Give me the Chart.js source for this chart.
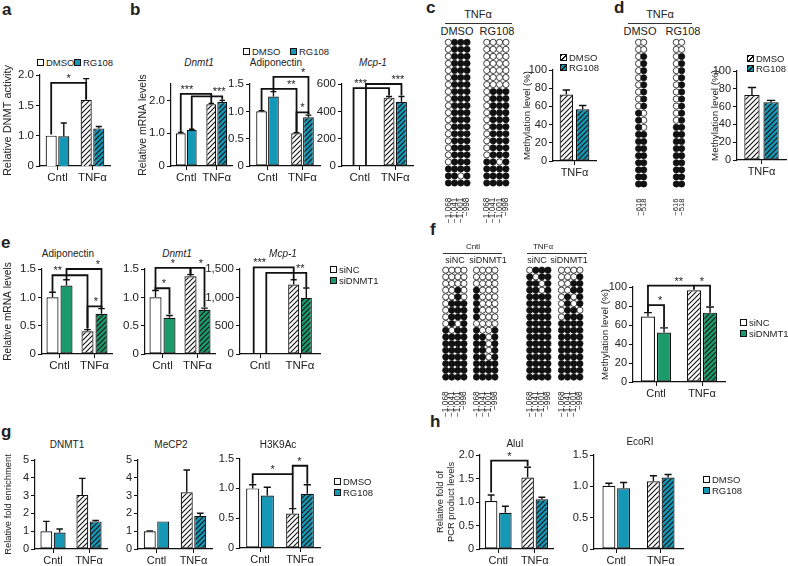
<!DOCTYPE html>
<html><head><meta charset="utf-8">
<script src="https://cdn.jsdelivr.net/npm/chart.js@4.4.1/dist/chart.umd.min.js"></script>
<style>
html,body{margin:0;padding:0;background:#fff;}
#root{position:relative;width:788px;height:566px;overflow:hidden;background:#fff;font-family:"Liberation Sans",Arial,Helvetica,sans-serif;color:#222;}
#root canvas{position:absolute;}
.t{position:absolute;line-height:1;white-space:nowrap;}
.box{position:absolute;width:5px;height:5px;border:1px solid #111;}
.hl{position:absolute;height:0;border-top:1px solid #333;}
</style></head><body><div id="root"></div>
<script>
// ---------------- data ----------------
const cats = ['Cntl', 'TNFα'];
const catTNF = ['TNFα'];
// a
const aDMSO = [1.00, 1.59], aDMSOErr = [0, 0.35];
const aRG108 = [0.99, 1.12], aRG108Err = [0.22, 0.03];
// b
const bDnmt1DMSO = [1.00, 1.88], bDnmt1DMSOErr = [0.02, 0.03];
const bDnmt1RG108 = [1.10, 1.95], bDnmt1RG108Err = [0.02, 0.05];
const bAdipoDMSO = [1.00, 0.60], bAdipoDMSOErr = [0.01, 0.01];
const bAdipoRG108 = [1.27, 0.89], bAdipoRG108Err = [0.09, 0.04];
const bMcp1DMSO = [0, 500], bMcp1DMSOErr = [0, 8];
const bMcp1RG108 = [0, 470], bMcp1RG108Err = [0, 38];
// c, d
const cDMSO = [73], cDMSOErr = [5];
const cRG108 = [57], cRG108Err = [4];
const dDMSO = [73], dDMSOErr = [8.5];
const dRG108 = [65], dRG108Err = [2];
// e
const eAdipoSiNC = [1.00, 0.40], eAdipoSiNCErr = [0.09, 0.03];
const eAdipoSiD = [1.21, 0.71], eAdipoSiDErr = [0.10, 0.09];
const eDnmt1SiNC = [1.00, 1.37], eDnmt1SiNCErr = [0.12, 0.03];
const eDnmt1SiD = [0.64, 0.78], eDnmt1SiDErr = [0.04, 0.03];
const eMcp1SiNC = [0, 1225], eMcp1SiNCErr = [0, 85];
const eMcp1SiD = [0, 990], eMcp1SiDErr = [0, 175];
// f
const fSiNC = [69, 96.5], fSiNCErr = [4, 0];
const fSiD = [52, 73], fSiDErr = [5, 6];
// g
const gDnmt1DMSO = [1.00, 3.04], gDnmt1DMSOErr = [0.55, 0.93];
const gDnmt1RG108 = [0.93, 1.55], gDnmt1RG108Err = [0.19, 0.05];
const gMeCP2DMSO = [1.00, 3.19], gMeCP2DMSOErr = [0.02, 1.25];
const gMeCP2RG108 = [1.55, 1.86], gMeCP2RG108Err = [0, 0.15];
const gH3DMSO = [1.00, 0.58], gH3DMSOErr = [0.06, 0.08];
const gH3RG108 = [0.88, 0.91], gH3RG108Err = [0.14, 0.15];
// h
const hAluDMSO = [1.02, 1.52], hAluDMSOErr = [0.13, 0.22];
const hAluRG108 = [0.77, 1.06], hAluRG108Err = [0.14, 0.04];
const hEcoDMSO = [1.01, 1.08], hEcoDMSOErr = [0.04, 0.09];
const hEcoRG108 = [0.97, 1.14], hEcoRG108Err = [0.09, 0.05];
// methylation maps (o = unmethylated, x = methylated)
const cPosLabels = ['−1,068', '−1,041', '−1,001', '−998'];
const dPosLabels = ['−616', '−518'];
const cMapDMSO = ['oxxx','oxxx','oxxx','oxxx','oxxx','oxxx','oxxx','oxxx','oxxx','oxxx','oxxx','oxxx','oxxx','oxxx','oxxx','oxxx','oxxx','oxxx','xxxx','xxox','xxxx'];
const cMapRG108 = ['oooo','oooo','oooo','oooo','oooo','oooo','oooo','oxxx','oxxx','oxxx','oxxx','oxxx','oxxx','oxxx','oxxx','oxxx','oxxx','xxox','xxxx','xxxx','xxxx'];
const dMapDMSO = ['oo','oo','ox','ox','ox','ox','ox','ox','ox','ox','xo','xo','xo','xx','xx','xx','xx','xx','xx','xx','xx'];
const dMapRG108 = ['oo','oo','ox','ox','ox','ox','ox','ox','ox','ox','ox','ox','xx','xx','xx','xx','xx','xx','xx','xx','xx'];
const fMapCntlSiNC = ['oooo','oooo','oooo','ooxo','ooxo','oxxx','oxxx','oxxx','oxox','xoxx','xxxx','xxxx','xxxx','xxxx','xxxx','xxxx','xxxx'];
const fMapCntlSiD = ['oooo','oooo','oooo','xooo','xooo','xooo','xooo','xooo','oooo','xoox','xxox','xxox','xxox','xxox','xxxx','xxxx','xxxx'];
const fMapTnfSiNC = ['oxxx','xoxx','xxox','xxox','xxxx','xxxx','xxxx','xxxx','xxxx','xxxx','xxxx','xxxx','xxxx','xxxx','xxxx','xxxx','xxxx'];
const fMapTnfSiD = ['oooo','ooox','ooxx','ooxx','oxox','oxox','oxxo','oxxx','xxxx','xxxx','xxxx','xxxx','xxxx','xxxx','xxxx','xxxx','xxxx'];

// ---------------- helpers ----------------
const FONT = '"Liberation Sans", Arial, Helvetica, sans-serif';
Chart.defaults.font.family = FONT;
Chart.defaults.color = '#222';
const root = document.getElementById('root');
const TEAL = '#1597b6', GREEN = '#1b9b6b', WHITE = '#ffffff';

function hatch(bg) {
  const s = 5, c = document.createElement('canvas');
  c.width = s; c.height = s;
  const x = c.getContext('2d');
  x.fillStyle = bg; x.fillRect(0, 0, s, s);
  x.strokeStyle = '#111'; x.lineWidth = 1.1;
  x.beginPath();
  x.moveTo(0, s); x.lineTo(s, 0);
  x.moveTo(-1, 1); x.lineTo(1, -1);
  x.moveTo(s - 1, s + 1); x.lineTo(s + 1, s - 1);
  x.stroke();
  return x.createPattern(c, 'repeat');
}
const hW = hatch(WHITE), hT = hatch(TEAL), hG = hatch(GREEN);
const cssHatch = bg => `repeating-linear-gradient(135deg,#111 0 1px,${bg} 1px 3.4px)`;

function txt(x, base, s, size, o = {}) {
  const d = document.createElement('div');
  d.className = 't'; d.textContent = s;
  d.style.fontSize = size + 'px';
  d.style.top = (base - 0.8465 * size) + 'px';
  d.style.left = x + 'px';
  if (o.bold) d.style.fontWeight = 'bold';
  if (o.it) d.style.fontStyle = 'italic';
  if (o.mid) d.style.transform = 'translateX(-50%)';
  root.appendChild(d);
}
function hline(x1, x2, y) {
  const d = document.createElement('div'); d.className = 'hl';
  d.style.left = x1 + 'px'; d.style.width = (x2 - x1) + 'px'; d.style.top = y + 'px';
  root.appendChild(d);
}
function leg(x, y, bg, label, size) {
  const b = document.createElement('div'); b.className = 'box';
  b.style.left = x + 'px'; b.style.top = y + 'px'; b.style.background = bg;
  root.appendChild(b);
  txt(x + 9, y + 7, label, size || 9.5);
}
function mkCanvas(box) {
  const cv = document.createElement('canvas');
  const W = box[2] - box[0], H = box[3] - box[1];
  cv.width = W; cv.height = H;
  cv.style.left = box[0] + 'px'; cv.style.top = box[1] + 'px';
  cv.style.width = W + 'px'; cv.style.height = H + 'px';
  root.appendChild(cv);
  return cv;
}
const errPlugin = {
  id: 'errbars',
  afterDatasetsDraw(chart) {
    const ctx = chart.ctx, ys = chart.scales.y;
    ctx.save(); ctx.strokeStyle = '#111'; ctx.lineWidth = 1.4;
    chart.data.datasets.forEach((ds, i) => {
      const meta = chart.getDatasetMeta(i);
      meta.data.forEach((bar, j) => {
        const e = ds.err ? ds.err[j] : 0;
        if (!e) return;
        const v = ds.data[j];
        const y0 = ys.getPixelForValue(v), y1 = ys.getPixelForValue(v + e);
        const cw = Math.max(5, bar.width * 0.55);
        ctx.beginPath();
        ctx.moveTo(bar.x, y0); ctx.lineTo(bar.x, y1);
        ctx.moveTo(bar.x - cw / 2, y1); ctx.lineTo(bar.x + cw / 2, y1);
        ctx.stroke();
      });
    });
    ctx.restore();
  }
};
function bracketPlugin(list) {
  return {
    id: 'brackets',
    afterDatasetsDraw(chart) {
      if (!list) return;
      const ctx = chart.ctx, ys = chart.scales.y;
      const n = chart.data.datasets.length;
      const bx = i => chart.getDatasetMeta(i % n).data[Math.floor(i / n)].x;
      ctx.save();
      ctx.strokeStyle = '#111'; ctx.lineWidth = 1.8; ctx.fillStyle = '#222';
      ctx.font = '11px ' + FONT; ctx.textAlign = 'center'; ctx.textBaseline = 'alphabetic';
      for (const b of list) {
        const xa = bx(b.a), xb = bx(b.b), y = ys.getPixelForValue(b.y);
        ctx.beginPath();
        ctx.moveTo(xa, ys.getPixelForValue(b.ya));
        ctx.lineTo(xa, y); ctx.lineTo(xb, y);
        ctx.lineTo(xb, ys.getPixelForValue(b.yb));
        ctx.stroke();
        ctx.fillText(b.t, xa + (xb - xa) * (b.tx === undefined ? 0.5 : b.tx), y - 1);
      }
      ctx.restore();
    }
  };
}
function barChart(o) {
  const cv = mkCanvas(o.box);
  const ts = o.tickSize || 11;
  const yTitle = o.title ? {
    display: true, text: o.title, color: '#222',
    font: { size: o.titleSize || 10, family: FONT },
    padding: { top: o.titleX - o.box[0] - 0.6 * (o.titleSize || 10), bottom: 0 }
  } : { display: false };
  return new Chart(cv, {
    type: 'bar',
    data: {
      labels: o.labels,
      datasets: o.series.map(s => ({
        data: s.v, err: s.e, backgroundColor: s.c, borderColor: '#111', borderWidth: 1.2,
        borderSkipped: false, barPercentage: o.bp, categoryPercentage: o.cp
      }))
    },
    options: {
      responsive: false, animation: false, events: [], devicePixelRatio: 1,
      layout: { padding: { left: 0, top: o.yTop - o.box[1], right: o.box[2] - o.xEnd, bottom: 0 } },
      plugins: { legend: { display: false }, tooltip: { enabled: false }, title: { display: false } },
      scales: {
        x: {
          offset: true,
          grid: { offset: false, drawOnChartArea: false, drawTicks: true, tickLength: 4, color: '#111', lineWidth: 1 },
          border: { display: true, color: '#111', width: 1.2 },
          ticks: { font: { size: o.xSize || ts }, color: '#222', padding: 1, maxRotation: 0, autoSkip: false },
          afterFit: s => { s.height = o.box[3] - o.yBottom; }
        },
        y: {
          min: o.min, max: o.max,
          afterBuildTicks: s => { s.ticks = o.ticks.map(v => ({ value: v })); },
          ticks: { callback: v => o.fmt(v), font: { size: ts }, color: '#222', padding: 2 },
          grid: { drawOnChartArea: false, drawTicks: true, tickLength: 4, color: '#111', lineWidth: 1 },
          border: { display: true, color: '#111', width: 1.2 },
          title: yTitle,
          afterFit: s => { s.width = o.axisX - o.box[0]; }
        }
      }
    },
    plugins: [errPlugin, bracketPlugin(o.br)]
  });
}
function dotMap(o) {
  const nC = o.pat[0].length, nR = o.pat.length;
  const L = o.x0 - o.dx / 2, R = L + nC * o.dx, Tp = o.y0 - o.dy / 2, B = Tp + nR * o.dy;
  const box = [Math.floor(L - 8), Math.floor(Tp - 4), Math.ceil(R + 8), Math.ceil(B + o.lab)];
  const cv = mkCanvas(box);
  const filled = [], open = [];
  o.pat.forEach((row, r) => [...row].forEach((ch, c) => (ch === 'x' ? filled : open).push({ x: c, y: r })));
  const r = o.r || 3.1;
  new Chart(cv, {
    type: 'scatter',
    data: { datasets: [
      { data: filled, pointRadius: r, pointBackgroundColor: '#111', pointBorderColor: '#111', pointBorderWidth: 0.8, clip: false },
      { data: open, pointRadius: r, pointBackgroundColor: '#fff', pointBorderColor: '#111', pointBorderWidth: 0.8, clip: false }
    ] },
    options: {
      responsive: false, animation: false, events: [], devicePixelRatio: 1,
      layout: { padding: { left: L - box[0], right: box[2] - R, top: Tp - box[1], bottom: 0 } },
      plugins: { legend: { display: false }, tooltip: { enabled: false } },
      scales: {
        x: {
          type: 'linear', min: -0.5, max: nC - 0.5,
          afterBuildTicks: s => { s.ticks = o.labels.map((_, i) => ({ value: i })); },
          ticks: { callback: (v, i) => o.labels[i], minRotation: 90, maxRotation: 90, autoSkip: false,
                   font: { size: o.fs || 8.3 }, color: '#222', padding: 3 },
          grid: { display: false }, border: { display: false },
          afterFit: s => { s.height = box[3] - B; }
        },
        y: { type: 'linear', reverse: true, min: -0.5, max: nR - 0.5, display: false }
      }
    }
  });
}
const f1 = v => v === 0 ? '0' : v.toFixed(1);
const f0 = v => String(v);
const fK = v => v === 0 ? '0' : v.toLocaleString('en-US');

// ---------------- panel letters ----------------
txt(2, 15, 'a', 17, { bold: true });
txt(130, 15, 'b', 17, { bold: true });
txt(426, 13.5, 'c', 17, { bold: true });
txt(614, 13.5, 'd', 17, { bold: true });
txt(1, 248, 'e', 17, { bold: true });
txt(430, 235, 'f', 17, { bold: true });
txt(1, 437, 'g', 17, { bold: true });
txt(430, 427, 'h', 17, { bold: true });

// ---------------- panel a ----------------
leg(37, 59, WHITE, 'DMSO'); leg(74, 59, TEAL, 'RG108');
barChart({
  box: [0, 60, 124, 186], axisX: 40, xEnd: 110, yTop: 75, yBottom: 166,
  min: 0.5, max: 2.0, ticks: [0.5, 1, 1.5, 2], fmt: v => v === 0.5 ? '0' : v.toFixed(1),
  labels: cats, cp: 0.72, bp: 0.88, tickSize: 11.5,
  series: [{ v: aDMSO, e: aDMSOErr, c: [WHITE, hW] }, { v: aRG108, e: aRG108Err, c: [TEAL, hT] }],
  title: 'Relative DNMT activity', titleSize: 11, titleX: 8,
  br: [{ a: 0, b: 2, ya: 1.02, y: 1.87, yb: 1.6, t: '*' }]
});

// ---------------- panel b ----------------
leg(243, 48, WHITE, 'DMSO'); leg(290, 48, TEAL, 'RG108');
txt(199, 66, 'Dnmt1', 10, { it: true, mid: true });
txt(276, 66, 'Adiponectin', 10, { mid: true });
txt(373, 66, 'Mcp-1', 10, { it: true, mid: true });
barChart({
  box: [136, 66, 240, 186], axisX: 171, xEnd: 232, yTop: 84, yBottom: 166,
  min: 0, max: 2.5, ticks: [0, 0.5, 1, 1.5, 2, 2.5], fmt: f1,
  labels: cats, cp: 0.72, bp: 0.9, tickSize: 11.5,
  series: [{ v: bDnmt1DMSO, e: bDnmt1DMSOErr, c: [WHITE, hW] }, { v: bDnmt1RG108, e: bDnmt1RG108Err, c: [TEAL, hT] }],
  title: 'Relative mRNA levels', titleSize: 10.5, titleX: 143,
  br: [{ a: 0, b: 2, ya: 1.03, y: 2.2, yb: 1.92, t: '***', tx: 0.2 },
       { a: 1, b: 3, ya: 1.13, y: 2.12, yb: 2.02, t: '***', tx: 0.9 }]
});
barChart({
  box: [225, 66, 328, 186], axisX: 250, xEnd: 320, yTop: 84, yBottom: 166,
  min: 0, max: 1.5, ticks: [0, 0.5, 1, 1.5], fmt: f1,
  labels: cats, cp: 0.68, bp: 0.9, tickSize: 11.5,
  series: [{ v: bAdipoDMSO, e: bAdipoDMSOErr, c: [WHITE, hW] }, { v: bAdipoRG108, e: bAdipoRG108Err, c: [TEAL, hT] }],
  br: [{ a: 0, b: 2, ya: 1.02, y: 1.41, yb: 0.62, t: '**', tx: 0.85 },
       { a: 1, b: 3, ya: 1.37, y: 1.63, yb: 0.95, t: '*', tx: 0.85 },
       { a: 2, b: 3, ya: 0.62, y: 0.98, yb: 0.94, t: '*' }]
});
barChart({
  box: [315, 66, 425, 186], axisX: 342, xEnd: 413, yTop: 84, yBottom: 166,
  min: 0, max: 600, ticks: [0, 200, 400, 600], fmt: f0,
  labels: cats, cp: 0.7, bp: 0.88, tickSize: 11.5,
  series: [{ v: bMcp1DMSO, e: bMcp1DMSOErr, c: [WHITE, hW] }, { v: bMcp1RG108, e: bMcp1RG108Err, c: [TEAL, hT] }],
  br: [{ a: 0, b: 2, ya: 0, y: 570, yb: 515, t: '***', tx: 0.2 },
       { a: 1, b: 3, ya: 0, y: 600, yb: 515, t: '***', tx: 0.9 }]
});

// ---------------- panel c ----------------
txt(478, 18, 'TNFα', 11, { mid: true }); hline(445, 512, 23);
txt(457, 35, 'DMSO', 11, { mid: true }); txt(497, 35, 'RG108', 11, { mid: true });
dotMap({ x0: 448.7, y0: 42, dx: 6.9, dy: 7.05, pat: cMapDMSO, labels: cPosLabels, lab: 38 });
dotMap({ x0: 487, y0: 42, dx: 6.9, dy: 7.05, pat: cMapRG108, labels: cPosLabels, lab: 38 });
leg(560, 54, cssHatch('#fff'), 'DMSO'); leg(560, 64, cssHatch(TEAL), 'RG108');
barChart({
  box: [518, 60, 600, 180], axisX: 553, xEnd: 596, yTop: 70, yBottom: 161,
  min: 0, max: 100, ticks: [0, 20, 40, 60, 80, 100], fmt: f0,
  labels: catTNF, cp: 0.76, bp: 0.82, tickSize: 11,
  series: [{ v: cDMSO, e: cDMSOErr, c: [hW] }, { v: cRG108, e: cRG108Err, c: [hT] }],
  title: 'Methylation level (%)', titleSize: 9.6, titleX: 527
});

// ---------------- panel d ----------------
txt(660, 18, 'TNFα', 11, { mid: true }); hline(628, 692, 23);
txt(640, 35, 'DMSO', 11, { mid: true }); txt(683, 35, 'RG108', 11, { mid: true });
dotMap({ x0: 639.3, y0: 42, dx: 6.7, dy: 7.1, pat: dMapDMSO, labels: dPosLabels, lab: 30, fs: 7.6 });
dotMap({ x0: 677, y0: 42, dx: 6.7, dy: 7.1, pat: dMapRG108, labels: dPosLabels, lab: 30, fs: 7.6 });
leg(747, 55, cssHatch('#fff'), 'DMSO'); leg(747, 65, cssHatch(TEAL), 'RG108');
barChart({
  box: [705, 60, 788, 180], axisX: 737, xEnd: 786, yTop: 71, yBottom: 160,
  min: 0, max: 100, ticks: [0, 20, 40, 60, 80, 100], fmt: f0,
  labels: catTNF, cp: 0.78, bp: 0.8, tickSize: 11,
  series: [{ v: dDMSO, e: dDMSOErr, c: [hW] }, { v: dRG108, e: dRG108Err, c: [hT] }],
  title: 'Methylation level (%)', titleSize: 9.8, titleX: 715
});

// ---------------- panel e ----------------
txt(68, 257, 'Adiponectin', 10, { mid: true });
txt(177, 257, 'Dnmt1', 10, { it: true, mid: true });
txt(283, 257, 'Mcp-1', 10, { it: true, mid: true });
leg(330, 266, WHITE, 'siNC'); leg(330, 277, GREEN, 'siDNMT1');
barChart({
  box: [0, 258, 118, 372], axisX: 42, xEnd: 112, yTop: 269, yBottom: 354,
  min: 0, max: 1.5, ticks: [0, 0.5, 1, 1.5], fmt: f1,
  labels: cats, cp: 0.8, bp: 0.86, tickSize: 11.5,
  series: [{ v: eAdipoSiNC, e: eAdipoSiNCErr, c: [WHITE, hW] }, { v: eAdipoSiD, e: eAdipoSiDErr, c: [GREEN, hG] }],
  title: 'Relative mRNA levels', titleSize: 10.2, titleX: 8,
  br: [{ a: 0, b: 2, ya: 1.1, y: 1.39, yb: 0.45, t: '**', tx: 0.15 },
       { a: 1, b: 3, ya: 1.32, y: 1.5, yb: 0.8, t: '*', tx: 0.9 },
       { a: 2, b: 3, ya: 0.45, y: 0.84, yb: 0.8, t: '*', tx: 0.6 }]
});
barChart({
  box: [118, 258, 222, 372], axisX: 145, xEnd: 215, yTop: 269, yBottom: 354,
  min: 0, max: 1.5, ticks: [0, 0.5, 1, 1.5], fmt: f1,
  labels: cats, cp: 0.8, bp: 0.86, tickSize: 11.5,
  series: [{ v: eDnmt1SiNC, e: eDnmt1SiNCErr, c: [WHITE, hW] }, { v: eDnmt1SiD, e: eDnmt1SiDErr, c: [GREEN, hG] }],
  br: [{ a: 0, b: 2, ya: 1.13, y: 1.52, yb: 1.41, t: '*' },
       { a: 0, b: 1, ya: 1.13, y: 1.16, yb: 0.7, t: '*', tx: 0.6 },
       { a: 2, b: 3, ya: 1.41, y: 1.52, yb: 0.83, t: '*', tx: 0.75 }]
});
barChart({
  box: [200, 258, 328, 372], axisX: 240, xEnd: 320, yTop: 269, yBottom: 354,
  min: 0, max: 1500, ticks: [0, 500, 1000, 1500], fmt: fK,
  labels: cats, cp: 0.63, bp: 0.88, tickSize: 11.5,
  series: [{ v: eMcp1SiNC, e: eMcp1SiNCErr, c: [WHITE, hW] }, { v: eMcp1SiD, e: eMcp1SiDErr, c: [GREEN, hG] }],
  br: [{ a: 0, b: 2, ya: 0, y: 1530, yb: 1320, t: '***', tx: 0.15 },
       { a: 1, b: 3, ya: 0, y: 1430, yb: 1175, t: '**', tx: 0.85 }]
});

// ---------------- panel f ----------------
txt(473, 250, 'Cntl', 8, { mid: true }); hline(443, 502, 253);
txt(543, 250, 'TNFα', 8, { mid: true }); hline(527, 587, 253);
txt(455, 264, 'siNC', 9, { mid: true }); txt(488, 264, 'siDNMT1', 9, { mid: true });
txt(537, 264, 'siNC', 9, { mid: true }); txt(569, 264, 'siDNMT1', 9, { mid: true });
dotMap({ x0: 446, y0: 270, dx: 6.67, dy: 6.69, pat: fMapCntlSiNC, labels: cPosLabels, lab: 36 });
dotMap({ x0: 476.7, y0: 270, dx: 6.67, dy: 6.69, pat: fMapCntlSiD, labels: cPosLabels, lab: 36 });
dotMap({ x0: 530, y0: 270, dx: 6.67, dy: 6.69, pat: fMapTnfSiNC, labels: cPosLabels, lab: 36 });
dotMap({ x0: 561.7, y0: 270, dx: 6.67, dy: 6.69, pat: fMapTnfSiD, labels: cPosLabels, lab: 36 });
leg(740, 319, WHITE, 'siNC'); leg(740, 330, GREEN, 'siDNMT1');
barChart({
  box: [596, 272, 734, 402], axisX: 633, xEnd: 725, yTop: 287, yBottom: 382,
  min: 0, max: 100, ticks: [0, 20, 40, 60, 80, 100], fmt: f0,
  labels: cats, cp: 0.7, bp: 0.875, tickSize: 11,
  series: [{ v: fSiNC, e: fSiNCErr, c: [WHITE, hW] }, { v: fSiD, e: fSiDErr, c: [GREEN, hG] }],
  title: 'Methylation level (%)', titleSize: 9.8, titleX: 605,
  br: [{ a: 0, b: 2, ya: 74, y: 101.5, yb: 97, t: '**', tx: 0.67 },
       { a: 2, b: 3, ya: 101.5, y: 101.5, yb: 80, t: '*' },
       { a: 0, b: 1, ya: 74, y: 81, yb: 58, t: '*', tx: 0.75 }]
});

// ---------------- panel g ----------------
txt(67, 448, 'DNMT1', 10, { mid: true });
txt(171, 448, 'MeCP2', 10, { mid: true });
txt(278, 448, 'H3K9Ac', 10, { mid: true });
leg(334, 478, WHITE, 'DMSO'); leg(334, 489, TEAL, 'RG108');
barChart({
  box: [0, 450, 115, 566], axisX: 35, xEnd: 107, yTop: 460, yBottom: 549,
  min: 0, max: 5, ticks: [0, 1, 2, 3, 4, 5], fmt: f0,
  labels: cats, cp: 0.74, bp: 0.89, tickSize: 11,
  series: [{ v: gDnmt1DMSO, e: gDnmt1DMSOErr, c: [WHITE, hW] }, { v: gDnmt1RG108, e: gDnmt1RG108Err, c: [TEAL, hT] }],
  title: 'Relative fold enrichment', titleSize: 9.4, titleX: 8
});
barChart({
  box: [115, 450, 220, 566], axisX: 138, xEnd: 212, yTop: 460, yBottom: 549,
  min: 0, max: 5, ticks: [0, 1, 2, 3, 4, 5], fmt: f0,
  labels: cats, cp: 0.73, bp: 0.89, tickSize: 11,
  series: [{ v: gMeCP2DMSO, e: gMeCP2DMSOErr, c: [WHITE, hW] }, { v: gMeCP2RG108, e: gMeCP2RG108Err, c: [TEAL, hT] }]
});
barChart({
  box: [215, 450, 328, 566], axisX: 240, xEnd: 320, yTop: 458, yBottom: 548,
  min: 0, max: 1.5, ticks: [0, 0.5, 1, 1.5], fmt: f1,
  labels: cats, cp: 0.73, bp: 0.9, tickSize: 11,
  series: [{ v: gH3DMSO, e: gH3DMSOErr, c: [WHITE, hW] }, { v: gH3RG108, e: gH3RG108Err, c: [TEAL, hT] }],
  br: [{ a: 0, b: 2, ya: 1.08, y: 1.24, yb: 0.67, t: '*' },
       { a: 2, b: 3, ya: 1.24, y: 1.38, yb: 1.08, t: '*', tx: 0.45 }]
});

// ---------------- panel h ----------------
txt(515, 447, 'AluI', 10, { mid: true });
txt(640, 445, 'EcoRI', 10, { mid: true });
leg(703, 476, WHITE, 'DMSO'); leg(703, 487, TEAL, 'RG108');
barChart({
  box: [430, 440, 560, 566], axisX: 480, xEnd: 553, yTop: 455, yBottom: 549,
  min: 0, max: 2, ticks: [0, 0.5, 1, 1.5, 2], fmt: f1,
  labels: cats, cp: 0.78, bp: 0.88, tickSize: 11,
  series: [{ v: hAluDMSO, e: hAluDMSOErr, c: [WHITE, hW] }, { v: hAluRG108, e: hAluRG108Err, c: [TEAL, hT] }],
  title: ['Relative fold of', 'PCR product levels'], titleSize: 9.4, titleX: 440,
  br: [{ a: 0, b: 2, ya: 1.2, y: 1.88, yb: 1.76, t: '*' }]
});
barChart({
  box: [565, 440, 690, 566], axisX: 594, xEnd: 683, yTop: 455, yBottom: 549,
  min: 0, max: 1.5, ticks: [0, 0.5, 1, 1.5], fmt: f1,
  labels: cats, cp: 0.66, bp: 0.88, tickSize: 11,
  series: [{ v: hEcoDMSO, e: hEcoDMSOErr, c: [WHITE, hW] }, { v: hEcoRG108, e: hEcoRG108Err, c: [TEAL, hT] }]
});
</script></body></html>
